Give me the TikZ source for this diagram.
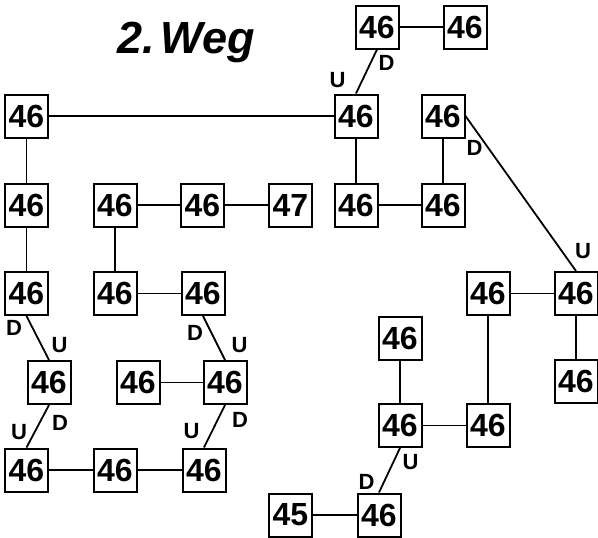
\documentclass[tikz,border=0pt]{standalone}
\usepackage{fontspec}
\setmainfont{Liberation Sans}
\usetikzlibrary{positioning}
\tikzset{
  cell/.style={rectangle, draw=black, line width=2pt, minimum size=43pt, inner sep=0pt, font=\bfseries\fontsize{32}{32}\selectfont},
  link/.style={line width=1.8pt, black},
  updown/.style={font=\bfseries\fontsize{22}{22}\selectfont, inner sep=0pt},
}

\begin{document}
\begin{tikzpicture}[x=1pt, y=-1pt]
  \useasboundingbox (0,0) rectangle (598,538);

  % Title
  \node[font=\bfseries\itshape\fontsize{45}{45}\selectfont, anchor=base] (title) at (186,53) {2.\hspace{0.12em}Weg};

  % Upper part
  \node[cell] (a) at (377,27) {46};
  \node[cell] (b) at (465,27) {46};
  \node[cell] (c) at (26.5,116) {46};
  \node[cell] (d) at (356,116) {46};
  \node[cell] (e) at (443,116) {46};
  \node[cell] (f) at (26.5,205) {46};
  \node[cell] (g) at (115,205) {46};
  \node[cell] (h) at (202.5,205) {46};
  \node[cell] (i) at (290.5,205) {47};
  \node[cell] (j) at (356,205) {46};
  \node[cell] (k) at (443,205) {46};

  % Lower left part
  \node[cell] (l) at (26.5,293.5) {46};
  \node[cell] (m) at (115,293.5) {46};
  \node[cell] (n) at (203,293.5) {46};
  \node[cell] (o) at (49,382.5) {46};
  \node[cell] (p) at (138,382.5) {46};
  \node[cell] (q) at (225,382.5) {46};
  \node[cell] (r) at (26.5,470) {46};
  \node[cell] (s) at (115,470) {46};
  \node[cell] (t) at (204,470) {46};

  % Lower right part
  \node[cell] (u) at (488,293.5) {46};
  \node[cell] (v) at (576,293.5) {46};
  \node[cell] (w) at (576,381.5) {46};
  \node[cell] (x) at (400,338) {46};
  \node[cell] (y) at (400,425.5) {46};
  \node[cell] (z) at (488,425.5) {46};
  \node[cell] (aa) at (290.5,515) {45};
  \node[cell] (bb) at (379,515) {46};

  % Links
  \draw[link] (a) -- (b);
  \draw[link] (a.south) -- (d.north);
  \draw[link] (c) -- (d);
  \draw[link] (c) -- (f);
  \draw[link] (d) -- (j);
  \draw[link] (j) -- (k);
  \draw[link] (e) -- (k);
  \draw[link] (e.east) -- (v.north);
  \draw[link] (g) -- (h);
  \draw[link] (h) -- (i);
  \draw[link] (g) -- (m);
  \draw[link] (m) -- (n);
  \draw[link] (f) -- (l);
  \draw[link] (l.south) -- (o.north);
  \draw[link] (o.south) -- (r.north);
  \draw[link] (n.south) -- (q.north);
  \draw[link] (p) -- (q);
  \draw[link] (q.south) -- (t.north);
  \draw[link] (r) -- (s);
  \draw[link] (s) -- (t);
  \draw[link] (u) -- (v);
  \draw[link] (v) -- (w);
  \draw[link] (u) -- (z);
  \draw[link] (x) -- (y);
  \draw[link] (y) -- (z);
  \draw[link] (y.south) -- (bb.north);
  \draw[link] (aa) -- (bb);

  % Up/down marks
  \foreach \px/\py/\txt [count=\k] in {386.5/62.5/D, 337.5/80.5/U, 474.5/148/D, 583/251.5/U,
      14/327.5/D, 59.5/345.5/U, 60/422.5/D, 19/432.5/U,
      195/332.5/D, 239.5/345.5/U, 240/419.5/D, 191.5/431.5/U,
      410.5/462.5/U, 366.5/481.5/D}
    \node[updown] (mk\k) at (\px,\py) {\txt};
\end{tikzpicture}
\end{document}
